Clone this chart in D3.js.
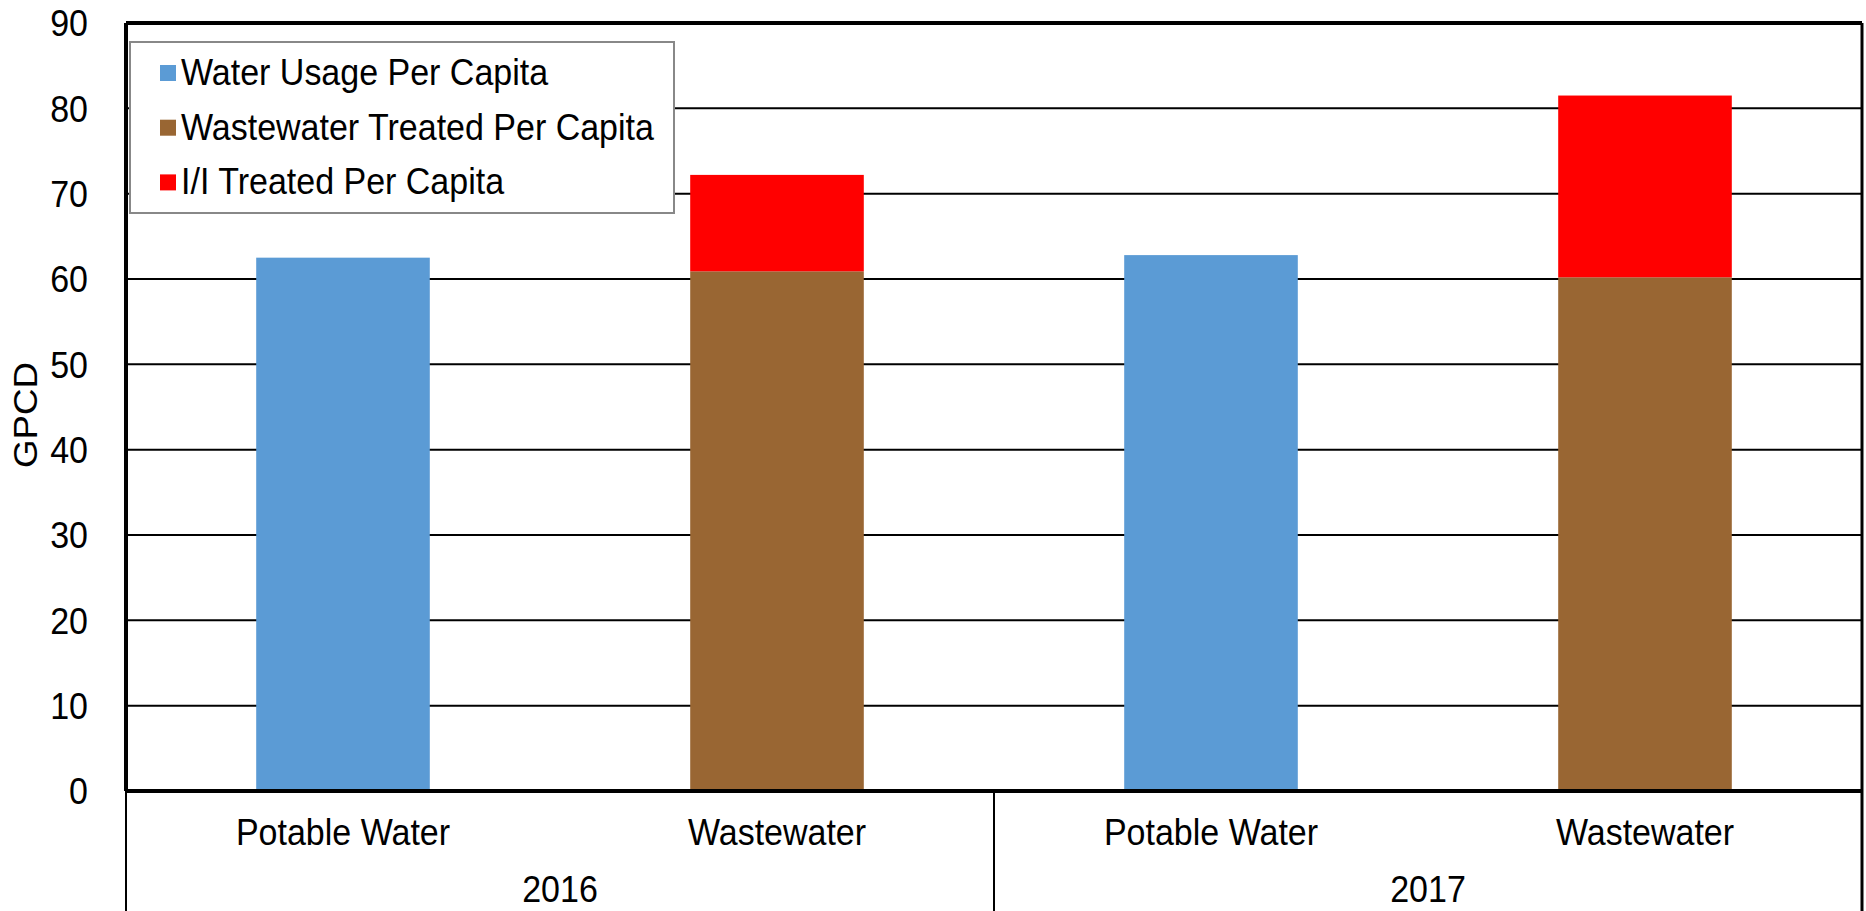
<!DOCTYPE html>
<html>
<head>
<meta charset="utf-8">
<script src="https://cdn.jsdelivr.net/npm/d3@7"></script>
<style>
  html, body { margin: 0; padding: 0; background: #fff; }
  svg { display: block; font-family: "Liberation Sans", Arial, sans-serif; }
</style>
</head>
<body>
<svg id="chart" width="1866" height="911"></svg>
<script>
// Per-capita water and wastewater flows, gallons per capita per day
const categories = ["Potable Water", "Wastewater", "Potable Water", "Wastewater"];
const categoryYears = ["2016", "2016", "2017", "2017"];
const years = ["2016", "2017"];
const waterUsagePerCapita = [62.5, 0, 62.8, 0];
const wastewaterTreatedPerCapita = [0, 60.9, 0, 60.2];
const iiTreatedPerCapita = [0, 11.3, 0, 21.3];
const seriesNames = ["Water Usage Per Capita", "Wastewater Treated Per Capita", "I/I Treated Per Capita"];
const seriesColors = ["#5B9BD5", "#996633", "#FF0000"];
const yTicks = [0, 10, 20, 30, 40, 50, 60, 70, 80, 90];
const yLabel = "GPCD";

const svg = d3.select("#chart");
const H = 911;
const plot = { left: 126, right: 1862, top: 23, bottom: 791 };
const fontSize = 34;
const tall = "scale(1,1.08)"; // slightly taller glyphs

const rows = categories.map((c, i) => ({
  idx: i,
  w: waterUsagePerCapita[i],
  ww: wastewaterTreatedPerCapita[i],
  ii: iiTreatedPerCapita[i]
}));

const x = d3.scaleBand()
  .domain(d3.range(categories.length))
  .range([plot.left, plot.right])
  .paddingInner(0.6)
  .paddingOuter(0.3);

const y = d3.scaleLinear().domain([0, 90]).range([plot.bottom, plot.top]);

// Horizontal gridlines
svg.append("g")
  .selectAll("line")
  .data(yTicks.filter(t => t > 0 && t < 90))
  .join("line")
  .attr("x1", plot.left).attr("x2", plot.right)
  .attr("y1", d => y(d)).attr("y2", d => y(d))
  .attr("stroke", "#000").attr("stroke-width", 2);

// Stacked bars
const stack = d3.stack().keys(["w", "ww", "ii"]);
const stacked = stack(rows);
svg.append("g")
  .selectAll("g")
  .data(stacked)
  .join("g")
  .attr("fill", (d, i) => seriesColors[i])
  .selectAll("rect")
  .data(d => d.filter(s => s[1] - s[0] > 0))
  .join("rect")
  .attr("x", d => x(d.data.idx))
  .attr("width", x.bandwidth())
  .attr("y", d => y(d[1]))
  .attr("height", d => y(d[0]) - y(d[1]));

// Y axis tick labels
const yAxis = d3.axisLeft(y).tickValues(yTicks).tickSize(0).tickPadding(0);
const yg = svg.append("g")
  .attr("transform", `translate(${plot.left - 38},0)`)
  .call(yAxis);
yg.select(".domain").remove();
yg.selectAll("text")
  .attr("font-size", fontSize)
  .attr("font-family", "Liberation Sans, Arial, sans-serif")
  .attr("fill", "#000")
  .attr("dy", "0.35em")
  .attr("transform", tall);

// Y axis title
svg.append("text")
  .attr("transform", `translate(37,${(y(40) + y(50)) / 2 + 8}) rotate(-90) scale(1.08,1)`)
  .attr("text-anchor", "middle")
  .attr("font-size", fontSize)
  .attr("fill", "#000")
  .text(yLabel);

// Plot frame
svg.append("line")
  .attr("x1", plot.left).attr("x2", plot.right)
  .attr("y1", plot.top).attr("y2", plot.top)
  .attr("stroke", "#000").attr("stroke-width", 4);
svg.append("line")
  .attr("x1", plot.right).attr("x2", plot.right)
  .attr("y1", plot.top).attr("y2", H)
  .attr("stroke", "#000").attr("stroke-width", 3);
svg.append("line")
  .attr("x1", plot.left).attr("x2", plot.left)
  .attr("y1", plot.top).attr("y2", plot.bottom)
  .attr("stroke", "#000").attr("stroke-width", 4);
svg.append("line")
  .attr("x1", plot.left).attr("x2", plot.left)
  .attr("y1", plot.bottom).attr("y2", H)
  .attr("stroke", "#000").attr("stroke-width", 2);
svg.append("line")
  .attr("x1", plot.left).attr("x2", plot.right)
  .attr("y1", plot.bottom).attr("y2", plot.bottom)
  .attr("stroke", "#000").attr("stroke-width", 4);

// Year group separator, midway between the two year groups
const sepX = (x(1) + x.bandwidth() + x(2)) / 2;
svg.append("line")
  .attr("x1", sepX).attr("x2", sepX)
  .attr("y1", plot.bottom).attr("y2", H)
  .attr("stroke", "#000").attr("stroke-width", 2);

// Category labels
svg.append("g")
  .selectAll("text")
  .data(rows)
  .join("text")
  .attr("transform", d => `translate(${x(d.idx) + x.bandwidth() / 2},845) ${tall}`)
  .attr("text-anchor", "middle")
  .attr("font-size", fontSize)
  .attr("fill", "#000")
  .text(d => categories[d.idx]);

// Year labels centred under each pair
svg.append("g")
  .selectAll("text")
  .data(years)
  .join("text")
  .attr("transform", yr => {
    const idxs = d3.range(categories.length).filter(i => categoryYears[i] === yr);
    const cx = (x(idxs[0]) + x(idxs[idxs.length - 1]) + x.bandwidth()) / 2;
    return `translate(${cx},902) ${tall}`;
  })
  .attr("text-anchor", "middle")
  .attr("font-size", fontSize)
  .attr("fill", "#000")
  .text(d => d);

// Legend
const legend = svg.append("g");
legend.append("rect")
  .attr("x", 130).attr("y", 42)
  .attr("width", 544).attr("height", 171)
  .attr("fill", "#fff")
  .attr("stroke", "#888").attr("stroke-width", 2);
const legendRows = legend.selectAll("g.item")
  .data(seriesNames)
  .join("g")
  .attr("class", "item")
  .attr("transform", (d, i) => `translate(160,${73 + i * 54.7})`);
legendRows.append("rect")
  .attr("x", 0).attr("y", -8)
  .attr("width", 16).attr("height", 16)
  .attr("fill", (d, i) => seriesColors[i]);
legendRows.append("text")
  .attr("transform", `translate(21,12) ${tall}`)
  .attr("font-size", fontSize)
  .attr("fill", "#000")
  .text(d => d);
</script>
</body>
</html>
